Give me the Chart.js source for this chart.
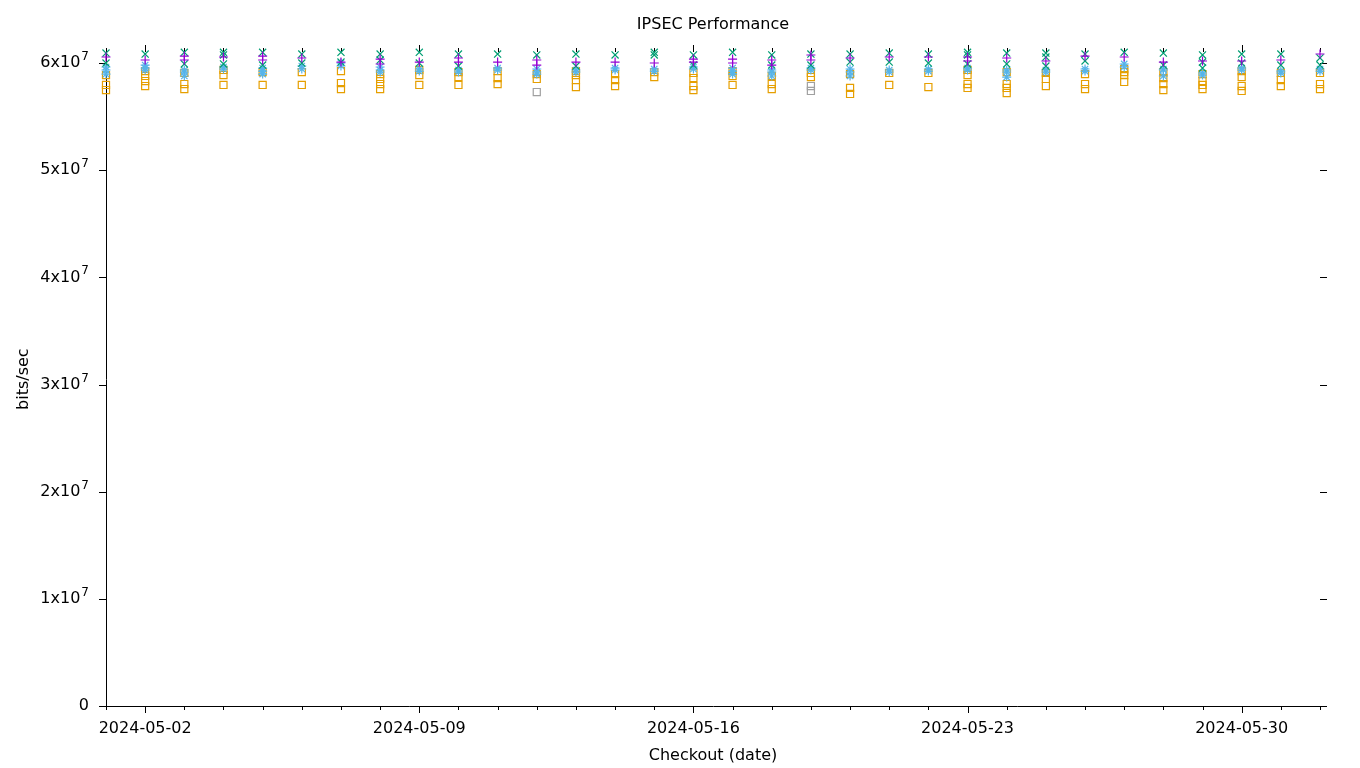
<!DOCTYPE html>
<html>
<head>
<meta charset="utf-8">
<title>IPSEC Performance</title>
<script src="https://cdn.jsdelivr.net/npm/chart.js@4.4.1/dist/chart.umd.min.js"></script>
<style>
  html, body { margin: 0; padding: 0; background: #fff; }
  canvas { display: block; }
</style>
</head>
<body>
<canvas id="chart" width="1360" height="768"></canvas>
<script>
// one column per checkout date, several runs per series on each date
const days = [
  '2024-05-01','2024-05-02','2024-05-03','2024-05-04','2024-05-05','2024-05-06','2024-05-07','2024-05-08',
  '2024-05-09','2024-05-10','2024-05-11','2024-05-12','2024-05-13','2024-05-14','2024-05-15','2024-05-16',
  '2024-05-17','2024-05-18','2024-05-19','2024-05-20','2024-05-21','2024-05-22','2024-05-23','2024-05-24',
  '2024-05-25','2024-05-26','2024-05-27','2024-05-28','2024-05-29','2024-05-30','2024-05-31','2024-06-01'
];
const labelledDays = ['2024-05-02', '2024-05-09', '2024-05-16', '2024-05-23', '2024-05-30'];
const yTicks = [0, 1e7, 2e7, 3e7, 4e7, 5e7, 6e7];

// bits/sec, purple "+"
const purpleRuns = [
  [6.056e7], [6.028e7], [6.065e7, 6.028e7], [6.056e7], [6.065e7, 6.028e7], [6.047e7], [6.009e7], [6.037e7, 5.991e7],
  [6.009e7], [6.047e7, 6.009e7], [6.009e7], [6.028e7, 5.981e7], [6.009e7], [6.009e7], [6.000e7], [6.037e7, 6.009e7],
  [6.037e7, 6.000e7], [6.028e7, 5.981e7], [6.075e7, 6.028e7], [6.047e7], [6.056e7], [6.056e7], [6.056e7, 6.019e7], [6.047e7],
  [6.019e7], [6.065e7], [6.056e7], [6.009e7], [6.019e7], [6.019e7], [6.028e7], [6.084e7]
];
// bits/sec, green "x"
const greenRuns = [
  [6.093e7, 6.000e7], [6.084e7], [6.100e7, 5.991e7], [6.100e7, 6.075e7, 5.991e7], [6.100e7, 5.981e7], [6.084e7, 6.000e7], [6.100e7, 6.009e7], [6.084e7, 6.028e7],
  [6.100e7, 6.000e7], [6.084e7, 5.972e7], [6.084e7], [6.075e7], [6.084e7, 5.972e7], [6.075e7], [6.100e7, 6.075e7], [6.075e7, 5.981e7],
  [6.100e7], [6.075e7, 5.981e7], [6.084e7, 5.981e7], [6.084e7, 6.009e7], [6.093e7, 6.009e7], [6.084e7, 6.000e7], [6.100e7, 6.075e7, 5.991e7], [6.093e7, 5.991e7],
  [6.093e7, 6.056e7, 5.972e7], [6.084e7, 6.019e7], [6.100e7], [6.093e7, 5.981e7], [6.075e7, 6.009e7, 5.953e7], [6.084e7, 6.000e7], [6.084e7, 5.981e7], [6.047e7, 5.981e7]
];
// bits/sec, light blue "*"
const blueRuns = [
  [5.963e7, 5.935e7, 5.897e7], [5.981e7, 5.953e7, 5.935e7], [5.935e7, 5.916e7, 5.879e7], [5.963e7, 5.944e7],
  [5.953e7, 5.925e7, 5.897e7], [5.972e7, 5.944e7], [6.000e7, 5.972e7], [5.963e7, 5.935e7, 5.916e7],
  [5.944e7, 5.925e7], [5.935e7, 5.916e7], [5.953e7, 5.935e7], [5.944e7, 5.916e7, 5.897e7],
  [5.935e7, 5.916e7], [5.953e7, 5.935e7], [5.944e7, 5.925e7], [5.963e7, 5.944e7],
  [5.953e7, 5.925e7, 5.897e7], [5.935e7, 5.916e7, 5.879e7], [5.953e7, 5.935e7], [5.944e7, 5.916e7, 5.879e7],
  [5.935e7, 5.916e7], [5.944e7, 5.925e7], [5.953e7, 5.935e7], [5.935e7, 5.916e7, 5.869e7],
  [5.935e7, 5.916e7], [5.944e7, 5.925e7], [5.991e7, 5.963e7], [5.944e7, 5.935e7, 5.879e7],
  [5.907e7, 5.888e7], [5.953e7, 5.935e7], [5.925e7, 5.907e7], [5.944e7, 5.925e7]
];
// bits/sec, orange squares
const orangeRuns = [
  [5.888e7, 5.795e7, 5.748e7], [5.925e7, 5.879e7, 5.832e7, 5.785e7], [5.907e7, 5.804e7, 5.757e7], [5.935e7, 5.888e7, 5.795e7],
  [5.916e7, 5.795e7], [5.916e7, 5.795e7], [5.925e7, 5.813e7, 5.757e7], [5.897e7, 5.851e7, 5.804e7, 5.757e7],
  [5.935e7, 5.888e7, 5.795e7], [5.916e7, 5.869e7, 5.795e7], [5.925e7, 5.860e7, 5.804e7], [5.897e7, 5.851e7],
  [5.925e7, 5.888e7, 5.841e7, 5.776e7], [5.897e7, 5.841e7, 5.785e7], [5.916e7, 5.869e7], [5.907e7, 5.860e7, 5.785e7, 5.748e7],
  [5.925e7, 5.879e7, 5.795e7], [5.879e7, 5.804e7, 5.757e7], [5.907e7, 5.869e7], [5.897e7, 5.767e7, 5.711e7],
  [5.907e7, 5.795e7], [5.907e7, 5.776e7], [5.935e7, 5.888e7, 5.804e7, 5.767e7], [5.916e7, 5.804e7, 5.767e7, 5.720e7],
  [5.907e7, 5.851e7, 5.785e7], [5.897e7, 5.804e7, 5.757e7], [5.944e7, 5.916e7, 5.888e7, 5.823e7], [5.916e7, 5.860e7, 5.804e7, 5.748e7],
  [5.897e7, 5.832e7, 5.795e7, 5.757e7], [5.925e7, 5.869e7, 5.785e7, 5.739e7], [5.907e7, 5.841e7, 5.785e7], [5.907e7, 5.804e7, 5.757e7]
];
// bits/sec, grey squares (only a few dates)
const greyRuns = [
  [], [], [], [], [], [], [], [],
  [], [], [], [5.729e7], [], [], [], [],
  [], [], [5.785e7, 5.739e7], [], [], [], [], [],
  [], [], [], [], [], [], [], []
];

const DAY = 86400000;
const t0 = Date.parse(days[0]);
const dayX = days.map(d => (Date.parse(d) - t0) / DAY);

function toPoints(runs) {
  const pts = [];
  runs.forEach((vals, i) => vals.forEach(v => pts.push({x: dayX[i], y: v})));
  return pts;
}
function dateLabel(v) {
  return new Date(t0 + v * DAY).toISOString().slice(0, 10);
}

function series(runs, color, style, radius) {
  return {
    data: toPoints(runs),
    pointStyle: style,
    pointRadius: radius,
    pointHoverRadius: radius,
    pointBorderColor: color,
    pointBackgroundColor: 'rgba(0,0,0,0)',
    pointBorderWidth: 1.2,
    showLine: false,
    clip: false
  };
}

// outward tick marks on all four sides (only left/bottom border lines are drawn)
// plus the "Nx10^7" labels with a real raised exponent
const tickMarks = {
  id: 'tickMarks',
  beforeDatasetsDraw(chart) {
    const {ctx, chartArea: a, scales: {x, y}} = chart;
    ctx.save();
    ctx.strokeStyle = '#000';
    ctx.lineWidth = 1;
    ctx.beginPath();
    x.ticks.forEach(t => {
      const px = Math.round(x.getPixelForValue(t.value)) + 0.5;
      const len = labelledDays.includes(dateLabel(t.value)) ? 7 : 4;
      ctx.moveTo(px, Math.round(a.bottom)); ctx.lineTo(px, Math.round(a.bottom) + len);
      ctx.moveTo(px, Math.round(a.top)); ctx.lineTo(px, Math.round(a.top) - len);
    });
    y.ticks.forEach(t => {
      const py = Math.round(y.getPixelForValue(t.value)) + 0.5;
      ctx.moveTo(Math.round(a.left) - 7, py); ctx.lineTo(Math.round(a.left), py);
      ctx.moveTo(Math.round(a.right), py); ctx.lineTo(Math.round(a.right) + 7, py);
    });
    ctx.stroke();

    ctx.fillStyle = '#000';
    ctx.textBaseline = 'middle';
    ctx.textAlign = 'right';
    const right = Math.round(a.left) - 17;
    y.ticks.forEach(t => {
      const py = y.getPixelForValue(t.value);
      if (t.value === 0) {
        ctx.font = '16px "DejaVu Sans", sans-serif';
        ctx.fillText('0', right, py);
        return;
      }
      ctx.font = '12px "DejaVu Sans", sans-serif';
      const exp = '7';
      const expW = ctx.measureText(exp).width;
      ctx.fillText(exp, right, py - 6);
      ctx.font = '16px "DejaVu Sans", sans-serif';
      ctx.fillText((t.value / 1e7) + 'x10', right - expW - 1, py);
    });
    ctx.restore();
  }
};

Chart.defaults.font.family = '"DejaVu Sans", sans-serif';
Chart.defaults.font.size = 16;
Chart.defaults.color = '#000';

new Chart(document.getElementById('chart').getContext('2d'), {
  type: 'scatter',
  data: {
    datasets: [
      series(purpleRuns, '#9400d3', 'cross', 4.5),
      series(greenRuns, '#009e73', 'crossRot', 5),
      series(blueRuns, '#56b4e9', 'star', 4.5),
      series(orangeRuns, '#e69f00', 'rect', 5),
      series(greyRuns, '#a0a0a0', 'rect', 5)
    ]
  },
  options: {
    responsive: false,
    animation: false,
    devicePixelRatio: 1,
    layout: { padding: { left: 0, right: 40, top: 0, bottom: 0 } },
    plugins: {
      legend: { display: false },
      tooltip: { enabled: false }
    },
    scales: {
      x: {
        type: 'linear',
        position: 'bottom',
        min: 0,
        max: 31,
        grid: { display: false, drawTicks: false },
        border: { display: true, color: '#000', width: 1 },
        ticks: {
          stepSize: 1,
          autoSkip: false,
          maxRotation: 0,
          padding: 13,
          callback: v => labelledDays.includes(dateLabel(v)) ? dateLabel(v) : ''
        },
        title: { display: true, text: 'Checkout (date)', padding: { top: 0, bottom: 3 } },
        afterFit: s => { s.height = 62; }
      },
      top: {
        type: 'linear',
        position: 'top',
        min: 0,
        max: 31,
        display: true,
        grid: { display: false, drawTicks: false },
        border: { display: false },
        ticks: { display: false },
        title: { display: true, text: 'IPSEC Performance', padding: { top: 15, bottom: 0 } },
        afterFit: s => { s.height = 52.3; }
      },
      y: {
        type: 'linear',
        min: 0,
        max: 6.1e7,
        grid: { display: false, drawTicks: false },
        border: { display: true, color: '#000', width: 1 },
        afterBuildTicks: s => { s.ticks = yTicks.map(v => ({value: v})); },
        ticks: { display: false },
        title: { display: true, text: 'bits/sec', padding: { top: 14, bottom: 0 } },
        afterFit: s => { s.width = 106; }
      }
    }
  },
  plugins: [tickMarks]
});
</script>
</body>
</html>
